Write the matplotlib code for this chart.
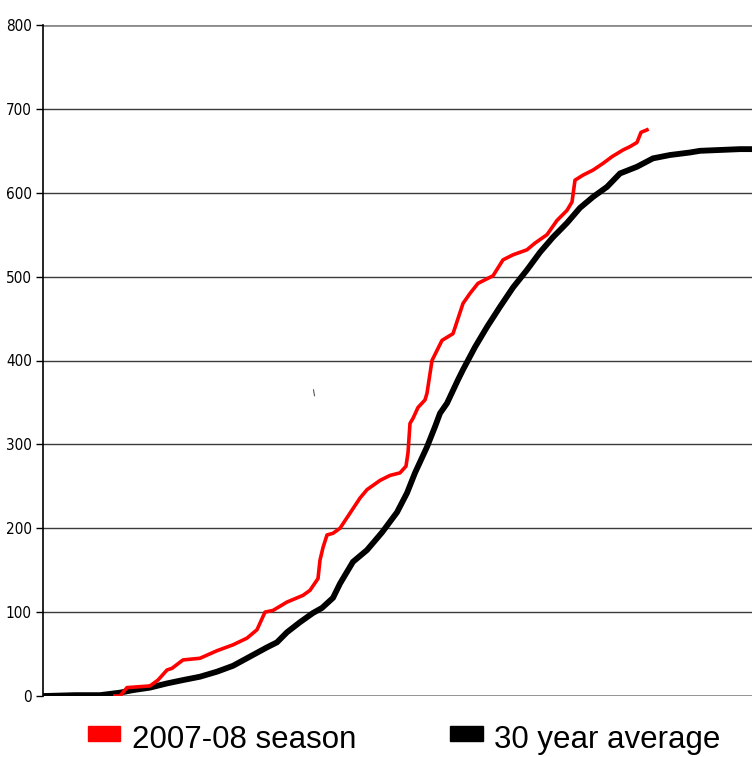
import matplotlib
matplotlib.use("Agg")
import matplotlib.pyplot as plt
from matplotlib.patches import Rectangle

# data: x positions (pixel-based, 3 px per day), cumulative values
red_px = [115, 120, 127, 150, 158, 167, 172, 183, 200, 217, 233, 247, 257, 265, 273, 287,
          303, 310, 318, 320, 323, 327, 333, 340, 350, 360, 367, 380, 390, 400, 406, 408,
          410, 413, 418, 425, 427, 432, 442, 453, 463, 470, 478, 493, 503, 513, 527, 535,
          547, 557, 567, 572, 575, 583, 593, 603, 612, 623, 630, 637, 641, 647]
red_val = [0, 0, 10, 12, 19, 31, 33, 43, 45, 54, 61, 69, 79, 100, 102, 112,
           120, 126, 140, 162, 177, 192, 194, 200, 218, 236, 246, 257, 263, 266, 274, 290,
           325, 331, 344, 353, 361, 400, 424, 432, 468, 480, 492, 501, 520, 526, 532, 540,
           550, 567, 579, 589, 615, 621, 627, 635, 643, 651, 655, 660, 672, 675]

avg_px = [45, 75, 100, 120, 133, 150, 167, 183, 200, 217, 233, 250, 267, 277, 287, 300,
          313, 322, 333, 340, 350, 353, 367, 382, 397, 407, 415, 427, 435, 440, 447, 458,
          463, 475, 487, 500, 513, 527, 540, 553, 567, 580, 593, 607, 620, 637, 653, 670,
          690, 700, 740, 752]
avg_val = [0, 1, 1, 4, 7, 10, 15, 19, 23, 29, 36, 47, 58, 64, 76, 88,
           99, 105, 117, 134, 154, 160, 174, 195, 219, 242, 266, 297, 321, 337, 349, 377,
           389, 416, 440, 464, 487, 508, 529, 547, 564, 582, 595, 607, 623, 631, 641, 645,
           648, 650, 652, 652]

yticks = [0, 100, 200, 300, 400, 500, 600, 700, 800]
legend_labels = ["2007-08 season", "30 year average"]

red_x = [(p - 43) / 3.0 for p in red_px]
avg_x = [(p - 43) / 3.0 for p in avg_px]

fig = plt.figure(figsize=(7.52, 7.57), dpi=100)
ax = fig.add_axes([43 / 752, (757 - 696) / 757, 1 - 43 / 752, (696 - 25) / 757])

for t in yticks:
    edge = t in (0, 800)
    ax.axhline(t, color="#8a8a8a" if edge else "#3a3a3a", lw=2.0 if edge else 1.0, zorder=1)

ax.plot(avg_x, avg_val, color="#000000", lw=4.2, solid_joinstyle="miter", zorder=2)
ax.plot(red_x, red_val, color="#ff0000", lw=2.6, zorder=3)

ax.set_xlim(0, (752 - 43) / 3.0)
ax.set_ylim(0, 800)
ax.set_yticks(yticks)
ax.set_yticklabels([str(t) for t in yticks], family="DejaVu Sans", fontstretch="condensed", fontsize=11)
ax.set_xticks([])
ax.tick_params(axis="y", length=5, width=1, color="black", pad=3)
for s in ["top", "right", "bottom"]:
    ax.spines[s].set_visible(False)
ax.spines["left"].set_color("black")
ax.spines["left"].set_linewidth(1.2)

# small stray mark seen in the reference
ax.plot([(313.5 - 43) / 3.0, (314.5 - 43) / 3.0], [365, 358], color="#555555", lw=0.8, zorder=2)

# legend
fig.patches.append(Rectangle((88 / 752, 1 - 741 / 757), 32 / 752, 15 / 757, transform=fig.transFigure, color="#ff0000"))
fig.patches.append(Rectangle((450 / 752, 1 - 741 / 757), 33 / 752, 15 / 757, transform=fig.transFigure, color="#000000"))
fig.text(132 / 752, 1 - 740 / 757, legend_labels[0], fontsize=22.5, family="Liberation Sans", va="center")
fig.text(494 / 752, 1 - 740 / 757, legend_labels[1], fontsize=22.5, family="Liberation Sans", va="center")

fig.savefig("out.png", dpi=100)
